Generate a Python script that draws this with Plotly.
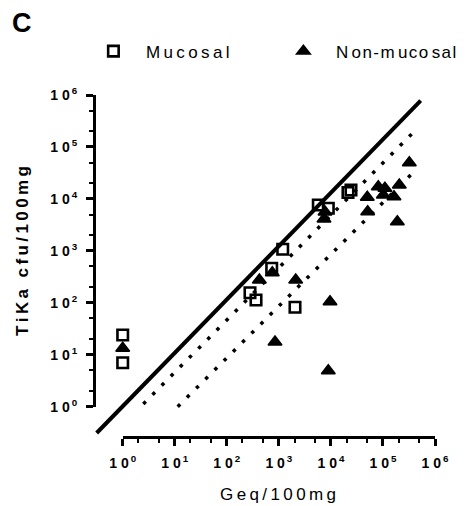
import plotly.graph_objects as go

# ---- data ----
muc_geq = [1, 1, 279, 364, 729, 1186, 2042, 5728, 8913, 21300, 24300]
muc_cfu = [24, 7.0, 156, 113, 461, 1072, 82, 7640, 6590, 13300, 14800]

non_geq = [1, 422, 748, 844, 2108, 9620, 8913, 7710, 7370, 50000, 50900,
           81400, 109000, 101600, 206000, 163000, 321000, 189000]
non_cfu = [13.3, 275, 380, 17.6, 275, 105, 4.93, 5600, 4100, 10740, 5670,
           17200, 16000, 11900, 18500, 11000, 49800, 3640]

solid_geq = [0.316, 531000]
solid_cfu = [0.312, 776000]
dot1_geq = [2.49, 413000]
dot1_cfu = [1.13, 205600]
dot2_geq = [11.4, 413000]
dot2_cfu = [1.0, 34900]

tick_vals = [1, 10, 100, 1000, 10000, 100000, 1000000]
tick_text = ["1\u00a00<sup>\u2009%d</sup>" % i for i in range(7)]

TH = "\u2009"   # thin space (letter spacing)
HS = "\u200a"   # hair space


def spaced(s, sep=TH):
    return sep.join(list(s))


muc_label = spaced("Mucosal")
non_label = "N" + TH + "o" + HS + "n" + HS + "-" + HS + "m" + TH + "u" + HS + "c" + HS + "o" + TH + "s" + HS + "a" + HS + "l"
x_title = spaced("Geq/100mg")
y_title = spaced("TiKa cfu/100mg")

FONT = "Liberation Sans, Arial, sans-serif"

fig = go.Figure()

# reference lines on the extended (hidden) axes
fig.add_trace(go.Scatter(x=solid_geq, y=solid_cfu, mode="lines",
                         line=dict(color="black", width=4), showlegend=False,
                         hoverinfo="skip", xaxis="x", yaxis="y"))
for gx, gy in [(dot1_geq, dot1_cfu), (dot2_geq, dot2_cfu)]:
    fig.add_trace(go.Scatter(x=gx, y=gy, mode="lines",
                             line=dict(color="black", width=3.5, dash="3.5px,9.5px"),
                             showlegend=False, hoverinfo="skip", xaxis="x", yaxis="y"))

# data points on the displayed axes
fig.add_trace(go.Scatter(x=muc_geq, y=muc_cfu, mode="markers", name=muc_label,
                         marker=dict(symbol="square-open", size=10.5, color="black",
                                     line=dict(width=2.6, color="black")),
                         cliponaxis=False, xaxis="x2", yaxis="y2"))
fig.add_trace(go.Scatter(x=non_geq, y=non_cfu, mode="markers", name=non_label,
                         marker=dict(symbol="triangle-up", size=12, color="black",
                                     line=dict(width=1.5, color="black")),
                         cliponaxis=False, xaxis="x2", yaxis="y2"))

L, R, T, B = 94, 473 - 435, 95, 506 - 437
W = 473 - L - R
H = 506 - T - B
x0 = -0.5514
y0 = -0.5833
BOTTOM = T + H  # pixel row of paper y = 0

axis_common = dict(type="log", range=[0, 6], showline=True, linewidth=3, linecolor="black",
                   ticks="outside", ticklen=7, tickwidth=3, tickcolor="black",
                   tickvals=tick_vals, ticktext=tick_text, showgrid=False, zeroline=False,
                   tickfont=dict(family=FONT, size=14, color="black", weight="bold"),
                   minor=dict(ticks="outside", ticklen=4, tickwidth=2, tickcolor="black",
                              showgrid=False),
                   anchor="free", position=0, automargin=False)

fig.update_layout(
    width=473, height=506,
    margin=dict(l=L, r=R, t=T, b=B, pad=0, autoexpand=False),
    paper_bgcolor="white", plot_bgcolor="rgba(0,0,0,0)",
    font=dict(family=FONT, color="black"),
    xaxis=dict(type="log", range=[x0, 6], domain=[0, 1], visible=False, anchor="y"),
    yaxis=dict(type="log", range=[y0, 6], domain=[0, 1], visible=False, anchor="x"),
    xaxis2=dict(domain=[(0 - x0) * 52.05 / W, 1], ticklabelstandoff=5, **axis_common),
    yaxis2=dict(domain=[(0 - y0) * 51.95 / H, 1], ticklabelstandoff=6, **axis_common),
    legend=dict(orientation="h", x=-0.0384, xanchor="left", y=1.127, yanchor="middle",
                itemwidth=55, entrywidth=120, entrywidthmode="pixels",
                font=dict(family=FONT, size=17, color="black"), bgcolor="rgba(0,0,0,0)"),
    title=dict(text="<b>C</b>", x=12 / 473, xanchor="left", xref="container",
               y=1 - 23 / 506, yanchor="middle", yref="container",
               font=dict(family=FONT, size=27, color="black")),
    annotations=[
        dict(text=x_title, xref="paper", yref="paper", x=(278 - L) / W, y=(BOTTOM - 494) / H,
             xanchor="center", yanchor="middle", showarrow=False,
             font=dict(family=FONT, size=17, color="black")),
        dict(text="<b>" + y_title + "</b>", xref="paper", yref="paper",
             x=(22 - L) / W, y=(BOTTOM - 251) / H, textangle=-90,
             xanchor="center", yanchor="middle", showarrow=False,
             font=dict(family=FONT, size=17, color="black")),
    ],
    showlegend=True,
)

fig.write_html("out.html")
